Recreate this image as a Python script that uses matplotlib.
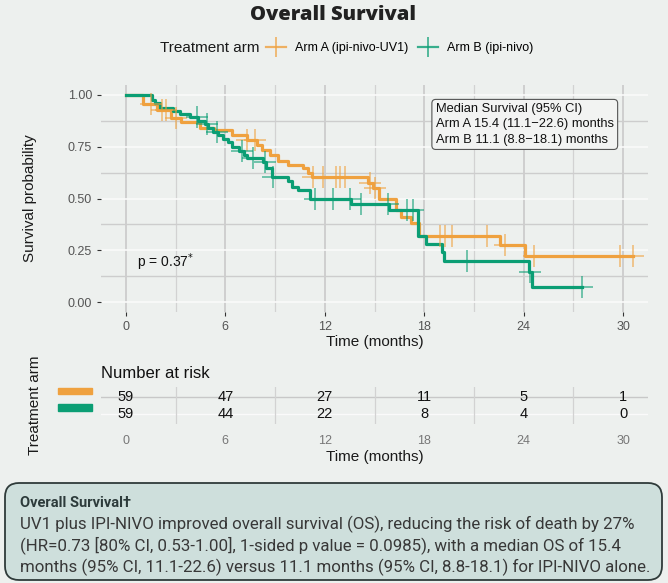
import numpy as np
import matplotlib
matplotlib.use("Agg")
import matplotlib.pyplot as plt
from matplotlib.lines import Line2D
from matplotlib.patches import FancyBboxPatch, Rectangle
import matplotlib.transforms as mtransforms

# Kaplan-Meier steps
times_a = [1.05, 1.85, 2.75, 3.35, 4.45, 5.3, 6.4, 7.3, 7.9, 8.2, 8.7, 9.2, 9.8,
           10.7, 11.0, 11.2, 14.6, 14.9, 15.3, 16.3, 16.6, 17.2, 17.7, 22.6, 24.1]
surv_a = [0.955, 0.928, 0.887, 0.868, 0.842, 0.831, 0.807, 0.783, 0.758, 0.734,
          0.710, 0.681, 0.662, 0.647, 0.623, 0.605, 0.575, 0.55, 0.50, 0.445,
          0.41, 0.38, 0.32, 0.275, 0.22]
end_a = 30.6
cens_a = [1.5, 2.2, 2.4, 3.0, 7.3, 7.8, 11.3, 11.9, 12.7, 12.9, 13.2, 14.7, 15.0,
          18.95, 19.25, 19.7, 21.8, 22.9, 24.6, 29.8, 30.6]

times_b = [1.55, 1.75, 2.05, 2.85, 3.25, 3.85, 4.35, 4.75, 4.95, 5.25, 5.55, 5.85,
           6.15, 6.4, 6.8, 7.1, 7.3, 8.3, 8.45, 8.8, 9.8, 10.0, 10.4, 11.1, 13.6,
           15.9, 17.6, 18.1, 19.1, 19.2, 24.3, 24.5]
surv_b = [0.976, 0.96, 0.936, 0.923, 0.907, 0.895, 0.874, 0.858, 0.842, 0.823,
          0.807, 0.787, 0.771, 0.75, 0.731, 0.71, 0.694, 0.678, 0.645, 0.605,
          0.585, 0.557, 0.54, 0.50, 0.473, 0.445, 0.32, 0.28, 0.243, 0.198,
          0.146, 0.074]
end_b = 27.5
cens_b = [4.3, 4.9, 5.5, 7.0, 7.7, 8.4, 8.9, 11.4, 12.5, 13.5, 14.2, 15.8, 16.95,
          17.3, 20.6, 24.4, 27.5]

risk_times = [0, 6, 12, 18, 24, 30]
risk_a = [59, 47, 27, 11, 5, 1]
risk_b = [59, 44, 22, 8, 4, 0]

arm_labels = ["Arm A (ipi-nivo-UV1)", "Arm B (ipi-nivo)"]
col_a = "#EFA13F"
col_b = "#0B9E74"
bg = "#EDF0EE"

plt.rcParams["font.family"] = ["Liberation Sans", "DejaVu Sans"]

fig = plt.figure(figsize=(6.68, 5.83), dpi=100, facecolor=bg)
W, H = 668, 583


def px_axes(left, top, right, bottom):
    return fig.add_axes([left / W, 1 - bottom / H, (right - left) / W, (bottom - top) / H])


def surv_at(times, surv, t):
    i = np.searchsorted(times, t, side="right")
    return 1.0 if i == 0 else surv[i - 1]


ax = px_axes(101, 84.6, 648, 312.4)
ax.set_facecolor(bg)
ax.set_xlim(-1.5, 31.5)
ax.set_ylim(-0.05, 1.05)
for s in ax.spines.values():
    s.set_visible(False)

ax.set_xticks(risk_times)
ax.set_xticks([3, 9, 15, 21, 27], minor=True)
ax.set_yticks([0, 0.25, 0.5, 0.75, 1.0])
ax.set_yticks([0.125, 0.375, 0.625, 0.875], minor=True)
ax.set_yticklabels(["0.00", "0.25", "0.50", "0.75", "1.00"])
ax.grid(axis="x", which="major", color="#C9C9C9", lw=1.2)
ax.grid(axis="x", which="minor", color="#D2D2D2", lw=0.9)
ax.grid(axis="y", which="major", color="#FAFAFA", lw=1.2)
ax.grid(axis="y", which="minor", color="#CDCDCD", lw=1.0)
ax.set_axisbelow(True)
ax.tick_params(axis="both", which="major", labelsize=9, labelcolor="#555555",
               color="#333333", length=3, width=0.8)
ax.tick_params(axis="both", which="minor", length=0)
ax.set_xlabel("Time (months)", fontsize=11, labelpad=1, color="#1A1A1A")
ax.set_ylabel("Survival probability", fontsize=11, labelpad=22, color="#1A1A1A")

for times, surv, end, cens, col in [(times_a, surv_a, end_a, cens_a, col_a),
                                    (times_b, surv_b, end_b, cens_b, col_b)]:
    xs = [0] + times + [end]
    ys = [1.0] + surv + [surv[-1]]
    ax.step(xs, ys, where="post", color=col, lw=2.3, zorder=3)
    cy = [surv_at(times, surv, t) for t in cens]
    ax.plot(cens, cy, ls="none", marker="+", markersize=16, markeredgewidth=1.3,
            color=col, alpha=0.6, zorder=4)

ax.text(0.612, 0.918,
        "Median Survival (95% CI)\nArm A 15.4 (11.1\u221222.6) months\nArm B 11.1 (8.8\u221218.1) months",
        transform=ax.transAxes, ha="left", va="top", fontsize=9.3, linespacing=1.35,
        color="#111111",
        bbox=dict(boxstyle="round,pad=0.3,rounding_size=0.3", fc="#F2F3F2",
                  ec="#555555", lw=0.8), zorder=6)
ax.text(0.66, 0.19, r"p = 0.37$^{*}$", fontsize=10, ha="left", va="center",
        color="#111111")

# number at risk table
axr = px_axes(101, 386.8, 648, 424.2)
axr.set_facecolor(bg)
axr.set_xlim(-1.5, 31.5)
axr.set_ylim(0.4, 2.6)
for s in axr.spines.values():
    s.set_visible(False)
axr.set_xticks(risk_times)
axr.set_xticks([3, 9, 15, 21, 27], minor=True)
axr.set_yticks([1, 2])
axr.set_yticklabels([])
axr.grid(axis="x", which="minor", color="#D2D2D2", lw=0.9)
axr.axhline(2, color="#C8C8C8", lw=1.0, zorder=0)
axr.axhline(1, color="#FAFAFA", lw=1.0, zorder=0)
axr.tick_params(axis="both", which="both", length=0)
axr.tick_params(axis="x", labelsize=9, labelcolor="#777777", pad=8)
axr.set_xlabel("Time (months)", fontsize=11, labelpad=2, color="#1A1A1A")
for row, vals in [(2, risk_a), (1, risk_b)]:
    for t, v in zip(risk_times, vals):
        axr.text(t, row, str(v), ha="center", va="center", fontsize=10.5,
                 color="#111111")
key_tr = mtransforms.blended_transform_factory(fig.transFigure, axr.transData)
for row, col in [(2.35, col_a), (1.38, col_b)]:
    axr.add_patch(Rectangle((58 / W, row - 0.18), 34 / W, 0.36, transform=key_tr,
                            color=col, clip_on=False))
axr.set_title("Number at risk", loc="left", fontsize=12, pad=6, color="#111111")
fig.text(35 / W, 1 - 405 / H, "Treatment arm", rotation=90, ha="center",
         va="center", fontsize=11, color="#1A1A1A")

# title and legend
fig.text(333 / W, 1 - 15 / H, "Overall Survival", ha="center", va="center",
         fontsize=14.5, fontweight="heavy", family=["Open Sans", "DejaVu Sans"],
         color="#222222")
fig.text(160 / W, 1 - 48 / H, "Treatment arm", ha="left", va="center",
         fontsize=11, color="#1A1A1A")
handles = [Line2D([], [], color=c, lw=1.6, marker="|", markersize=14,
                  markeredgewidth=1.2, alpha=0.8) for c in (col_a, col_b)]
fig.legend(handles, arm_labels, loc="center left",
           bbox_to_anchor=(266 / W, 1 - 48 / H), ncol=2, frameon=False,
           fontsize=9, numpoints=1, handlelength=1.6, handletextpad=0.7,
           columnspacing=0.8, borderpad=0, borderaxespad=0)

# summary box
box = FancyBboxPatch((0.05, 0.03), 6.57, 0.97,
                     boxstyle="round,pad=0,rounding_size=0.14",
                     transform=fig.dpi_scale_trans, fc="#CEDFDC", ec="#2F3B3A",
                     lw=1.3)
fig.patches.append(box)
fig.text(20 / W, 1 - 503 / H, "Overall Survival\u2020", ha="left", va="center",
         fontsize=10.5, fontweight="bold", family=["Roboto", "DejaVu Sans"],
         color="#2D3B3B")
body = ["UV1 plus IPI-NIVO improved overall survival (OS), reducing the risk of death by 27%",
        "(HR=0.73 [80% CI, 0.53-1.00], 1-sided p value = 0.0985), with a median OS of 15.4",
        "months (95% CI, 11.1-22.6) versus 11.1 months (95% CI, 8.8-18.1) for IPI-NIVO alone."]
for i, line in enumerate(body):
    fig.text(20 / W, 1 - (524 + 21.5 * i) / H, line, ha="left", va="center",
             fontsize=12.2, family=["Roboto", "DejaVu Sans"], color="#383838")

fig.savefig("out.png", dpi=100, facecolor=bg)
